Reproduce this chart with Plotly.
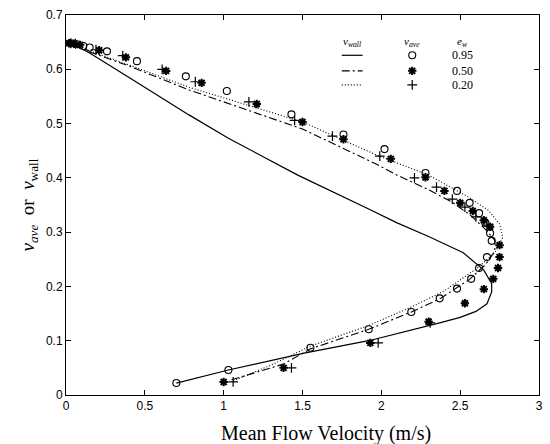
import plotly.graph_objects as go

# ---- model curves (nu_wall) ----
wall095_x = [0.70, 1.03, 1.51, 1.92, 2.37, 2.50, 2.60, 2.67, 2.70, 2.70, 2.65, 2.52, 2.30, 2.10, 1.91, 1.47, 1.03, 0.78, 0.40, 0.15, 0.03]
wall095_y = [0.022, 0.046, 0.077, 0.100, 0.133, 0.143, 0.154, 0.168, 0.190, 0.205, 0.230, 0.262, 0.292, 0.317, 0.344, 0.405, 0.473, 0.516, 0.585, 0.630, 0.648]

wall050_x = [1.05, 1.38, 1.55, 1.92, 2.19, 2.37, 2.56, 2.66, 2.72, 2.72, 2.66, 2.57, 2.45, 2.30, 2.10, 1.97, 1.50, 0.78, 0.40, 0.15, 0.03]
wall050_y = [0.028, 0.057, 0.085, 0.121, 0.153, 0.177, 0.213, 0.240, 0.265, 0.285, 0.305, 0.330, 0.355, 0.378, 0.405, 0.425, 0.490, 0.562, 0.606, 0.632, 0.648]

wall020_x = [1.06, 1.30, 1.55, 1.92, 2.19, 2.40, 2.60, 2.72, 2.77, 2.75, 2.68, 2.55, 2.30, 1.97, 1.50, 0.78, 0.40, 0.15, 0.03]
wall020_y = [0.026, 0.055, 0.090, 0.128, 0.162, 0.192, 0.232, 0.262, 0.290, 0.315, 0.340, 0.365, 0.405, 0.442, 0.503, 0.567, 0.608, 0.634, 0.648]

# ---- simulation points (nu_ave) ----
ave095_x = [0.03, 0.07, 0.11, 0.15, 0.26, 0.45, 0.76, 1.02, 1.43, 1.76, 2.02, 2.28, 2.48, 2.56, 2.62, 2.66, 2.69, 2.70, 2.67, 2.62, 2.57, 2.48, 2.37, 2.19, 1.92, 1.55, 1.03, 0.70]
ave095_y = [0.648, 0.646, 0.643, 0.640, 0.633, 0.615, 0.587, 0.560, 0.517, 0.480, 0.453, 0.409, 0.376, 0.354, 0.335, 0.317, 0.298, 0.284, 0.254, 0.234, 0.214, 0.196, 0.178, 0.153, 0.121, 0.087, 0.046, 0.022]

ave050_x = [0.02, 0.05, 0.09, 0.21, 0.38, 0.635, 0.86, 1.21, 1.50, 1.76, 2.06, 2.28, 2.40, 2.50, 2.58, 2.65, 2.69, 2.75, 2.75, 2.74, 2.71, 2.65, 2.53, 2.30, 1.93, 1.38, 1.00]
ave050_y = [0.648, 0.647, 0.645, 0.635, 0.622, 0.597, 0.575, 0.536, 0.503, 0.471, 0.435, 0.401, 0.376, 0.354, 0.339, 0.322, 0.310, 0.276, 0.254, 0.234, 0.214, 0.195, 0.169, 0.135, 0.096, 0.050, 0.024]

ave020_x = [0.03, 0.06, 0.19, 0.36, 0.61, 0.82, 1.16, 1.45, 1.69, 1.99, 2.21, 2.35, 2.45, 2.53, 2.60, 2.67, 2.31, 1.98, 1.43, 1.06]
ave020_y = [0.648, 0.647, 0.636, 0.625, 0.600, 0.577, 0.540, 0.506, 0.477, 0.440, 0.400, 0.383, 0.361, 0.346, 0.328, 0.313, 0.133, 0.096, 0.050, 0.024]

x_ticks = [0, 0.5, 1, 1.5, 2, 2.5, 3]
x_ticklabels = ["0", "0.5", "1", "1.5", "2", "2.5", "3"]
y_ticks = [0, 0.1, 0.2, 0.3, 0.4, 0.5, 0.6, 0.7]
y_ticklabels = ["0", "0.1", "0.2", "0.3", "0.4", "0.5", "0.6", "0.7"]

legend_ew = ["0.95", "0.50", "0.20"]

line_styles = [dict(color="black", width=1.2),
               dict(color="black", width=1.1, dash="8px,3px,2px,3px"),
               dict(color="black", width=1.1, dash="1px,2px")]
marker_styles = [dict(symbol="circle-open", size=7, color="black", line=dict(width=1.1, color="black")),
                 dict(symbol="asterisk-open", size=7, color="black", line=dict(width=2, color="black")),
                 dict(symbol="cross-thin-open", size=7, color="black", line=dict(width=1.2, color="black"))]

fig = go.Figure()
for xs, ys, ls in [(wall095_x, wall095_y, line_styles[0]),
                   (wall050_x, wall050_y, line_styles[1]),
                   (wall020_x, wall020_y, line_styles[2])]:
    fig.add_trace(go.Scatter(x=xs, y=ys, mode="lines", line=ls, showlegend=False))
for xs, ys, ms in [(ave095_x, ave095_y, marker_styles[0]),
                   (ave050_x, ave050_y, marker_styles[1]),
                   (ave020_x, ave020_y, marker_styles[2])]:
    fig.add_trace(go.Scatter(x=xs, y=ys, mode="markers", marker=ms, showlegend=False))

# ---- custom three-column legend (overlay axes spanning the plot area 0..1) ----
serif = "Liberation Serif, DejaVu Serif, serif"
hdr_y = 0.930
row_y = [0.894, 0.853, 0.816]
col_line = 0.605
col_mark = 0.732
col_val = 0.838
for i in range(3):
    fig.add_trace(go.Scatter(x=[col_line - 0.022, col_line + 0.022], y=[row_y[i], row_y[i]], mode="lines",
                             line=line_styles[i], xaxis="x2", yaxis="y2", showlegend=False, hoverinfo="skip"))
    fig.add_trace(go.Scatter(x=[col_mark], y=[row_y[i]], mode="markers", marker=marker_styles[i],
                             xaxis="x2", yaxis="y2", showlegend=False, hoverinfo="skip"))

ann = []
for x, t in [(col_line, "<i>ν<sub>wall</sub></i>"), (col_mark, "<i>ν<sub>ave</sub></i>"), (col_val, "<i>e<sub>w</sub></i>")]:
    ann.append(dict(x=x, y=hdr_y, text=t, xref="paper", yref="paper", showarrow=False,
                    xanchor="center", yanchor="middle", font=dict(family=serif, size=11, color="black")))
for i, v in enumerate(legend_ew):
    ann.append(dict(x=col_val, y=row_y[i], text=v, xref="paper", yref="paper", showarrow=False,
                    xanchor="center", yanchor="middle", font=dict(family=serif, size=12, color="black")))
# x-axis title
ann.append(dict(xref="paper", yref="paper", x=0.55, y=-0.1, xanchor="center", yanchor="middle",
                text="Mean Flow Velocity (m/s)", showarrow=False,
                font=dict(family=serif, size=20, color="black")))
fig.update_layout(annotations=ann)

axis_common = dict(showline=True, linecolor="black", linewidth=1, mirror="ticks", ticks="inside",
                   ticklen=5, tickcolor="black", showgrid=False, zeroline=False,
                   tickfont=dict(family="Liberation Sans, Arial, sans-serif", size=12, color="black"))

fig.update_xaxes(range=[0, 3], tickvals=x_ticks, ticktext=x_ticklabels, **axis_common)
fig.update_yaxes(range=[0, 0.7], tickvals=y_ticks, ticktext=y_ticklabels,
                 title=dict(text="<i>ν<sub>ave</sub></i>  or  <i>ν</i><sub>wall</sub>",
                            font=dict(family=serif, size=19, color="black"), standoff=6),
                 **axis_common)

fig.update_layout(
    xaxis2=dict(overlaying="x", range=[0, 1], visible=False, fixedrange=True),
    yaxis2=dict(overlaying="y", range=[0, 1], visible=False, fixedrange=True),
    width=550, height=444, margin=dict(l=66, r=7, t=15, b=49),
    plot_bgcolor="white", paper_bgcolor="white")

fig.write_html("out.html")
